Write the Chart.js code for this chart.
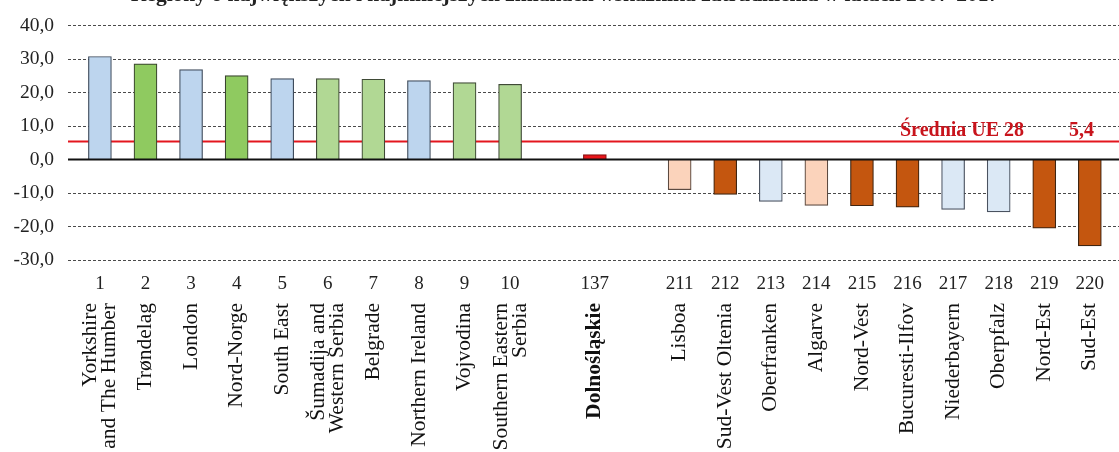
<!DOCTYPE html>
<html lang="pl">
<head>
<meta charset="utf-8">
<title>Regiony o największych i najmniejszych zmianach wskaźnika</title>
<script src="https://cdn.jsdelivr.net/npm/chart.js@4/dist/chart.umd.min.js"></script>
<style>
  html, body { margin: 0; padding: 0; background: #ffffff; }
  #wrap { width: 1119px; height: 452px; position: relative; }
</style>
</head>
<body>
<div id="wrap"><canvas id="chart" width="1119" height="452"></canvas></div>
<script>
// Pozycja w rankingu regionów
const ranks = ['1', '2', '3', '4', '5', '6', '7', '8', '9', '10', '137',
  '211', '212', '213', '214', '215', '216', '217', '218', '219', '220'];

// Nazwy regionów (tablica = etykieta dwuwierszowa)
const regions = [
  ['Yorkshire', 'and The Humber'], 'Trøndelag', 'London', 'Nord-Norge', 'South East',
  ['Šumadija and', 'Western Serbia'], 'Belgrade', 'Northern Ireland', 'Vojvodina',
  ['Southern Eastern', 'Serbia'], 'Dolnośląskie',
  'Lisboa', 'Sud-Vest Oltenia', 'Oberfranken', 'Algarve', 'Nord-Vest',
  'Bucuresti-Ilfov', 'Niederbayern', 'Oberpfalz', 'Nord-Est', 'Sud-Est'];

// Zmiana wskaźnika (pkt)
const values = [30.8, 28.6, 26.9, 25.1, 24.2, 24.2, 24.0, 23.6, 23.0, 22.5, 1.5,
  -9.0, -10.4, -12.5, -13.7, -13.8, -14.2, -14.9, -15.6, -20.5, -25.8];

// Kraj regionu (decyduje o kolorze słupka)
const countries = ['UK', 'NO', 'UK', 'NO', 'UK', 'RS', 'RS', 'UK', 'RS', 'RS', 'PL',
  'PT', 'RO', 'DE', 'PT', 'RO', 'RO', 'DE', 'DE', 'RO', 'RO'];

// Średnia UE 28
const euAverageLabel = 'Średnia UE 28';
const euAverage = 5.4;

// Podziałka osi Y
const yTickValues = [-30, -20, -10, 0, 10, 20, 30, 40];

const homeRegion = 'Dolnośląskie';
const titleText = 'Regiony o największych i najmniejszych zmianach wskaźnika zatrudnienia w latach 2007-2017';

// ---- wygląd ----
const SERIF = "'Liberation Serif', 'Times New Roman', serif";
const countryFill = {
  UK: '#bdd5ee', NO: '#8fca60', RS: '#b1d894', PL: '#e8161b',
  PT: '#fbd3bb', RO: '#c4560f', DE: '#dbe8f5'
};
const countryBorder = {
  UK: '#3e4b5c', NO: '#39452f', RS: '#3f4a36', PL: '#8a1010',
  PT: '#5c4a40', RO: '#3f2410', DE: '#4a5260'
};
const GROUP_GAP = 0.86;        // dodatkowy odstęp między grupami w rankingu
const AREA_LEFT = 68;          // szerokość pasa etykiet osi Y
const NAME_LINE_SHIFT = 0.2;   // przesunięcie etykiet dwuwierszowych (w jednostkach osi)

// położenie słupków na osi X: nowa grupa, gdy numer w rankingu "przeskakuje"
const xPositions = [];
{
  let shift = 0;
  ranks.forEach((r, i) => {
    if (i > 0 && parseInt(r, 10) - parseInt(ranks[i - 1], 10) > 1) shift += GROUP_GAP;
    xPositions.push(i + shift);
  });
}
const lastPos = xPositions[xPositions.length - 1];
const X_MIN = -0.70;
const X_MAX = lastPos + 0.64;

const fmt = v => v.toFixed(1).replace('.', ',');

// linia zero, linia średniej i tytuł
const overlayPlugin = {
  id: 'overlay',
  beforeDatasetsDraw(chart) {
    const { ctx, chartArea, scales } = chart;
    const y = scales.y.getPixelForValue(euAverage);
    ctx.save();
    ctx.strokeStyle = '#e3161e';
    ctx.lineWidth = 2;
    ctx.beginPath();
    ctx.moveTo(chartArea.left, y);
    ctx.lineTo(chartArea.right, y);
    ctx.stroke();
    ctx.restore();
  },
  afterDatasetsDraw(chart) {
    const { ctx, chartArea, scales } = chart;
    const y0 = scales.y.getPixelForValue(0);
    ctx.save();
    ctx.strokeStyle = '#111111';
    ctx.lineWidth = 2;
    ctx.beginPath();
    ctx.moveTo(chartArea.left, y0);
    ctx.lineTo(chartArea.right, y0);
    ctx.stroke();

    const ya = scales.y.getPixelForValue(euAverage);
    ctx.fillStyle = '#c8141c';
    ctx.font = 'bold 20px ' + SERIF;
    ctx.textBaseline = 'alphabetic';
    ctx.textAlign = 'left';
    ctx.fillText(euAverageLabel, 900, ya - 6);
    ctx.fillText(fmt(euAverage), 1069, ya - 6);

    ctx.fillStyle = '#222222';
    ctx.font = 'bold 21.5px ' + SERIF;
    ctx.textAlign = 'center';
    ctx.fillText(titleText, 565, 1);
    ctx.restore();
  }
};

new Chart(document.getElementById('chart'), {
  type: 'bar',
  data: {
    datasets: [{
      data: values.map((v, i) => ({ x: xPositions[i], y: v })),
      backgroundColor: countries.map(c => countryFill[c]),
      borderColor: countries.map(c => countryBorder[c]),
      borderWidth: 1.2,
      barThickness: 23,
      xAxisID: 'x'
    }]
  },
  options: {
    responsive: false,
    animation: false,
    devicePixelRatio: 1,
    layout: { padding: { top: 24, right: 0, bottom: 0, left: 0 } },
    plugins: { legend: { display: false }, tooltip: { enabled: false }, title: { display: false } },
    scales: {
      x: {
        type: 'linear',
        position: 'bottom',
        offset: false,
        weight: 0,
        min: X_MIN,
        max: X_MAX,
        afterBuildTicks: s => { s.ticks = xPositions.map(v => ({ value: v })); },
        afterFit: s => { s.height = 40; },
        grid: { display: false, drawTicks: false },
        border: { display: false },
        ticks: {
          autoSkip: false,
          maxRotation: 0,
          minRotation: 0,
          padding: 13,
          color: '#222222',
          font: { family: SERIF, size: 19 },
          callback: (v, i) => ranks[i]
        }
      },
      names: {
        type: 'linear',
        position: 'bottom',
        offset: false,
        weight: 1,
        min: X_MIN,
        max: X_MAX,
        afterBuildTicks: s => {
          s.ticks = xPositions.map((v, i) => ({
            value: Array.isArray(regions[i]) ? v - NAME_LINE_SHIFT : v
          }));
        },
        afterFit: s => { s.height = 152; },
        grid: { display: false, drawTicks: false },
        border: { display: false },
        ticks: {
          autoSkip: false,
          maxRotation: 90,
          minRotation: 90,
          padding: 3,
          color: '#111111',
          font: ctx => ({
            family: SERIF,
            size: 21.5,
            lineHeight: 0.88,
            weight: regions[ctx.index] === homeRegion ? 'bold' : 'normal'
          }),
          callback: (v, i) => regions[i]
        }
      },
      y: {
        min: yTickValues[0],
        max: yTickValues[yTickValues.length - 1],
        afterBuildTicks: s => { s.ticks = yTickValues.map(v => ({ value: v })); },
        afterFit: s => { s.width = AREA_LEFT; },
        grid: {
          drawTicks: false,
          lineWidth: 1,
          color: ctx => (ctx.tick && ctx.tick.value === 0) ? 'rgba(0,0,0,0)' : '#4a4a4a'
        },
        border: { display: false, dash: [3, 2] },
        ticks: {
          padding: 14,
          color: '#222222',
          font: { family: SERIF, size: 19.5 },
          callback: v => fmt(v)
        }
      }
    }
  },
  plugins: [overlayPlugin]
});
</script>
</body>
</html>
